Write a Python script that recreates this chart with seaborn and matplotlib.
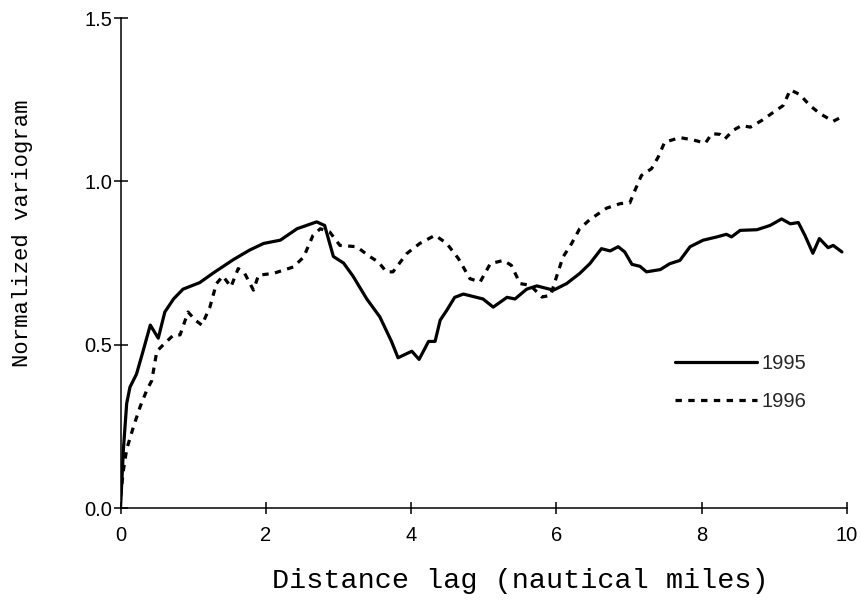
import matplotlib
matplotlib.use("Agg")
import matplotlib.pyplot as plt
import seaborn as sns
import numpy as np

# ---- data ----
x_1995 = [0.00, 0.04, 0.085, 0.13, 0.22, 0.31, 0.41, 0.52, 0.61, 0.73, 0.86, 1.09, 1.28, 1.55,
          1.78, 1.97, 2.20, 2.43, 2.70, 2.81, 2.93, 3.07, 3.20, 3.39, 3.57, 3.73, 3.82, 4.01,
          4.11, 4.24, 4.33, 4.40, 4.49, 4.60, 4.72, 4.99, 5.13, 5.32, 5.43, 5.59, 5.73, 5.96,
          6.14, 6.32, 6.46, 6.62, 6.74, 6.85, 6.94, 7.04, 7.15, 7.24, 7.43, 7.56, 7.70, 7.84,
          8.02, 8.21, 8.34, 8.41, 8.53, 8.76, 8.94, 9.10, 9.22, 9.33, 9.42, 9.53, 9.62, 9.74,
          9.81, 9.93]
y_1995 = [0.00, 0.18, 0.32, 0.37, 0.41, 0.48, 0.56, 0.52, 0.60, 0.64, 0.67, 0.69, 0.72, 0.76,
          0.79, 0.81, 0.82, 0.855, 0.876, 0.865, 0.77, 0.75, 0.71, 0.64, 0.585, 0.51, 0.46, 0.48,
          0.455, 0.51, 0.51, 0.575, 0.605, 0.645, 0.655, 0.64, 0.615, 0.645, 0.64, 0.67, 0.68, 0.667,
          0.687, 0.718, 0.748, 0.794, 0.787, 0.80, 0.784, 0.746, 0.74, 0.723, 0.73, 0.748, 0.758, 0.80,
          0.82, 0.83, 0.838, 0.83, 0.85, 0.852, 0.865, 0.885, 0.87, 0.874, 0.835, 0.78, 0.825, 0.797,
          0.804, 0.784]

x_1996 = [0.00, 0.04, 0.085, 0.18, 0.27, 0.36, 0.43, 0.50, 0.59, 0.73, 0.82, 0.93, 1.03, 1.12,
          1.23, 1.32, 1.41, 1.52, 1.62, 1.71, 1.83, 1.90, 2.10, 2.38, 2.52, 2.65, 2.75, 2.88,
          3.02, 3.25, 3.43, 3.55, 3.66, 3.75, 3.94, 4.12, 4.33, 4.49, 4.65, 4.81, 4.95, 5.09,
          5.27, 5.38, 5.50, 5.64, 5.80, 5.92, 6.00, 6.09, 6.21, 6.32, 6.46, 6.69, 6.88, 7.01,
          7.08, 7.17, 7.31, 7.40, 7.49, 7.70, 7.88, 8.05, 8.14, 8.25, 8.32, 8.43, 8.55, 8.67,
          8.83, 8.99, 9.12, 9.22, 9.35, 9.49, 9.63, 9.81, 9.95]
y_1996 = [0.035, 0.116, 0.18, 0.25, 0.31, 0.36, 0.39, 0.48, 0.50, 0.53, 0.53, 0.60, 0.575, 0.56,
          0.615, 0.687, 0.71, 0.677, 0.733, 0.718, 0.667, 0.713, 0.718, 0.738, 0.768, 0.835, 0.855, 0.845,
          0.804, 0.80, 0.77, 0.753, 0.723, 0.723, 0.779, 0.81, 0.835, 0.81, 0.764, 0.702, 0.692, 0.748,
          0.758, 0.743, 0.687, 0.682, 0.646, 0.651, 0.707, 0.768, 0.81, 0.855, 0.883, 0.918, 0.932, 0.934,
          0.972, 1.018, 1.039, 1.074, 1.12, 1.134, 1.127, 1.117, 1.146, 1.144, 1.13, 1.156, 1.171, 1.166,
          1.187, 1.212, 1.232, 1.28, 1.266, 1.232, 1.207, 1.184, 1.20]

series_labels = ["1995", "1996"]
x_ticks = [0, 2, 4, 6, 8, 10]
y_ticks = [0.0, 0.5, 1.0, 1.5]
y_tick_labels = ["0.0", "0.5", "1.0", "1.5"]
x_label = "Distance lag (nautical miles)"
y_label = "Normalized variogram"

# ---- style ----
sns.set_style("ticks")
plt.rcParams["font.family"] = ["Liberation Sans", "DejaVu Sans"]

fig = plt.figure(figsize=(8.62, 6.14), dpi=100)
ax = fig.add_axes([0.1398, 0.1726, 0.8428, 0.798])

sns.lineplot(x=x_1995, y=y_1995, ax=ax, color="black", linewidth=2.3,
             sort=False, estimator=None, label=series_labels[0])
sns.lineplot(x=x_1996, y=y_1996, ax=ax, color="black", linewidth=2.3,
             sort=False, estimator=None, label=series_labels[1],
             linestyle=(0, (2.0, 2.0)))

ax.set_xlim(0, 10)
ax.set_ylim(0, 1.5)
ax.set_xticks(x_ticks)
ax.set_xticklabels([str(t) for t in x_ticks])
ax.set_yticks(y_ticks)
ax.set_yticklabels(y_tick_labels)

for s in ["top", "right"]:
    ax.spines[s].set_visible(False)
for s in ["left", "bottom"]:
    ax.spines[s].set_linewidth(1.1)
    ax.spines[s].set_color("black")

ax.tick_params(axis="y", direction="inout", length=10, width=1.1, pad=1,
               labelsize=14.5, colors="black")
ax.tick_params(axis="x", direction="inout", length=8, width=1.1, pad=9,
               labelsize=14.5, colors="black")

ax.set_xlabel(x_label, family="Liberation Mono", fontsize=20.5, color="black")
ax.set_ylabel(y_label, family="Liberation Mono", fontsize=16, color="black")
ax.xaxis.set_label_coords(0.55, -0.122)
ax.yaxis.set_label_coords(-0.1204, 0.560)

leg = ax.legend(loc="upper left", bbox_to_anchor=(0.763, 0.315), frameon=False,
                fontsize=14.5, handlelength=4.1, handletextpad=0.2,
                labelspacing=0.95, borderpad=0, borderaxespad=0)
for h in leg.get_lines():
    h.set_linewidth(2.3)

fig.savefig("out.png", dpi=100, facecolor="white")
